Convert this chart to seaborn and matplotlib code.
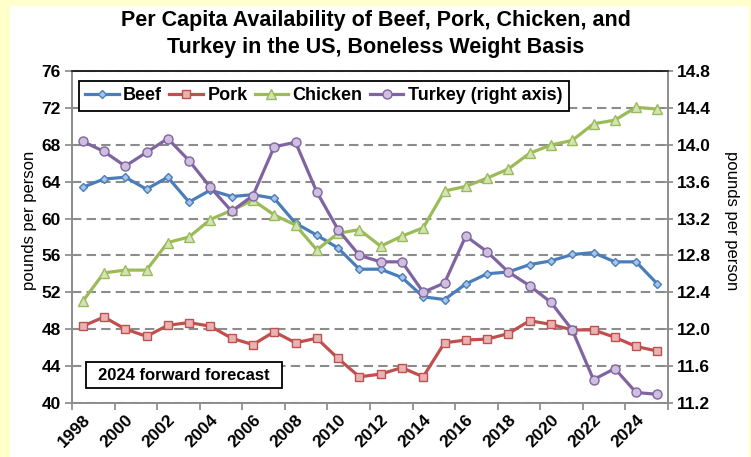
import matplotlib
matplotlib.use("Agg")
import matplotlib.pyplot as plt
from matplotlib.patches import Rectangle
from matplotlib.ticker import FixedLocator, FormatStrFormatter
import seaborn as sns

plt.rcParams['font.family'] = ['Liberation Sans', 'DejaVu Sans']

# Per capita availability, pounds per person (boneless weight)
years = list(range(1998, 2026))
beef = [63.4, 64.3, 64.5, 63.2, 64.5, 61.8, 63.1, 62.4, 62.6, 62.2,
        59.5, 58.2, 56.8, 54.5, 54.5, 53.6, 51.5, 51.2, 52.9, 54.0,
        54.2, 55.0, 55.4, 56.1, 56.3, 55.3, 55.3, 52.9]
pork = [48.3, 49.3, 48.0, 47.2, 48.4, 48.7, 48.3, 47.0, 46.3, 47.7,
        46.5, 47.0, 44.8, 42.8, 43.1, 43.8, 42.8, 46.5, 46.8, 46.9,
        47.5, 48.9, 48.5, 47.9, 47.9, 47.1, 46.1, 45.6]
chicken = [51.0, 54.1, 54.4, 54.4, 57.4, 58.0, 59.9, 60.9, 62.0, 60.4,
           59.3, 56.6, 58.4, 58.8, 57.0, 58.1, 59.0, 63.0, 63.5, 64.4,
           65.4, 67.1, 68.0, 68.5, 70.3, 70.7, 72.1, 71.9]
turkey = [14.04, 13.93, 13.77, 13.92, 14.07, 13.83, 13.54, 13.28, 13.45, 13.98,
          14.03, 13.49, 13.08, 12.80, 12.73, 12.73, 12.40, 12.50, 13.01, 12.84,
          12.62, 12.47, 12.29, 11.99, 11.45, 11.57, 11.31, 11.29]

year_labels = [str(y) for y in range(1998, 2025, 2)]
left_ticks = list(range(40, 77, 4))
right_ticks = [11.2, 11.6, 12.0, 12.4, 12.8, 13.2, 13.6, 14.0, 14.4, 14.8]

W, H = 751, 457
fig = plt.figure(figsize=(W / 100, H / 100), dpi=100)
fig.patch.set_facecolor('#FFFFCC')
fig.patches.append(Rectangle((10 / W, 0), 739 / W, 1 - 6 / H,
                             transform=fig.transFigure, facecolor='white',
                             edgecolor='none', zorder=-10))

left, right, top, bottom = 72, 668, 71.4, 402.6
ax = fig.add_axes([left / W, 1 - bottom / H, (right - left) / W, (bottom - top) / H])
ax.set_facecolor('white')
ax2 = ax.twinx()

lw = 2.3
styles = [
    ('Beef', beef, '#4A7EBB', '#A9C4E6', 'D', 4.5, ax),
    ('Pork', pork, '#C0504D', '#E8B4B3', 's', 6.0, ax),
    ('Chicken', chicken, '#9BBB59', '#D3E3B5', '^', 6.5, ax),
    ('Turkey (right axis)', turkey, '#8064A2', '#CDBFDD', 'o', 6.5, ax2),
]
for name, vals, col, fill, mk, ms, a in styles:
    sns.lineplot(x=years, y=vals, ax=a, color=col, linewidth=lw, marker=mk,
                 markersize=ms, markerfacecolor=fill, markeredgecolor=col,
                 markeredgewidth=1.0, label=name, legend=False, zorder=3)

# axes ranges
ax.set_xlim(1997.5, 2025.5)
ax.set_ylim(40, 76)
ax2.set_ylim(11.2, 14.8)

ax.yaxis.set_major_locator(FixedLocator(left_ticks))
ax2.yaxis.set_major_locator(FixedLocator(right_ticks))
ax2.yaxis.set_major_formatter(FormatStrFormatter('%.1f'))

# x labels centred on even years, tick marks between category pairs
ax.set_xticks(list(range(1998, 2025, 2)))
ax.set_xticklabels(year_labels)
ax.set_xticks([1997.5 + 2 * i for i in range(15)], minor=True)
ax.tick_params(axis='x', which='major', length=0, pad=7)
ax.tick_params(axis='x', which='minor', length=5, width=1.2, color='#888888',
               direction='out')
for lab in ax.get_xticklabels():
    lab.set_rotation(45)
    lab.set_ha('right')
    lab.set_va('top')
    lab.set_rotation_mode('anchor')
    lab.set_fontweight('bold')
    lab.set_fontsize(12.5)

ax.tick_params(axis='y', length=5, width=1.2, color='#888888', direction='out',
               labelsize=12.5, pad=3)
ax2.tick_params(axis='y', length=7, width=1.2, color='#888888', direction='inout',
                labelsize=12.5, pad=3)
for lab in ax.get_yticklabels() + ax2.get_yticklabels():
    lab.set_fontweight('bold')

ax.set_ylabel('pounds per person', fontsize=12)
ax.yaxis.set_label_coords(-0.058, 0.55)
ax2.set_ylabel('pounds per person', fontsize=12, rotation=270, va='bottom')
ax2.yaxis.set_label_coords(1.094, 0.55)

# horizontal dashed gridlines
ax.set_axisbelow(True)
ax.grid(axis='y', color='#8C8C8C', linewidth=1.5, linestyle=(0, (4.5, 2.5)))
ax.grid(axis='x', visible=False)

for a in (ax, ax2):
    for side in ('left', 'right', 'bottom'):
        a.spines[side].set_color('#8C8C8C')
        a.spines[side].set_linewidth(1.2)
    a.spines['top'].set_color('#222222')
    a.spines['top'].set_linewidth(1.2)

# legend across the top of the plot
h1, l1 = ax.get_legend_handles_labels()
h2, l2 = ax2.get_legend_handles_labels()
leg = ax2.legend(h1 + h2, l1 + l2, loc='upper left', ncol=4,
                 bbox_to_anchor=(79 / W, 1 - 81 / H), bbox_transform=fig.transFigure,
                 borderaxespad=0, frameon=True, fancybox=False, framealpha=1,
                 edgecolor='black', prop={'weight': 'bold', 'size': 13},
                 handlelength=1.85, handletextpad=0.25, columnspacing=0.4,
                 borderpad=0.35)
leg.get_frame().set_linewidth(1.3)

# forecast note
fig.patches.append(Rectangle((86 / W, 1 - 388 / H), 196 / W, 26 / H,
                             transform=fig.transFigure, facecolor='white',
                             edgecolor='black', linewidth=1.3, zorder=5))
fig.text(184 / W, 1 - 375 / H, '2024 forward forecast', ha='center', va='center',
         fontsize=12, fontweight='bold', zorder=6)

fig.text(376 / W, 1 - 34 / H,
         'Per Capita Availability of Beef, Pork, Chicken, and\n'
         'Turkey in the US, Boneless Weight Basis',
         ha='center', va='center', fontsize=15.5, fontweight='bold', linespacing=1.38)

fig.savefig('out.png', dpi=100, facecolor=fig.get_facecolor())
